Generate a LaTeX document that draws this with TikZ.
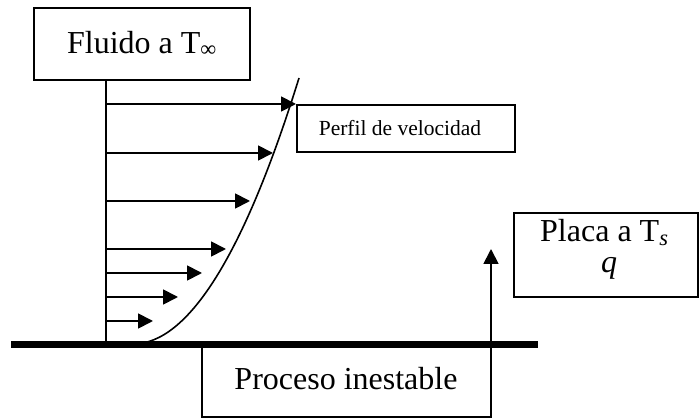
\documentclass[tikz,border=0pt]{standalone}
\usepackage{fontspec}
\setmainfont{Liberation Serif}
\usetikzlibrary{arrows.meta}
\begin{document}
\begin{tikzpicture}[x=1pt,y=-1pt,
  boxline/.style={draw=black,line width=1.8pt},
  bigtext/.style={font=\fontsize{32}{38}\selectfont,inner sep=0pt},
  smalltext/.style={font=\fontsize{21.5}{26}\selectfont,inner sep=0pt},
  vel/.style={line width=1.8pt,-{Triangle[length=15pt,width=15pt]}},
  plate/.style={line width=7pt},
  profile/.style={line width=1.6pt}]
\useasboundingbox (0,0) rectangle (699,419);
% boxes
\draw[boxline] (34,8) rectangle (250,80);
\node[bigtext] (fluido) at (142,44) {Fluido a T\textsubscript{∞}};
\coordinate (fb) at (106,80);
\draw[boxline] (297,105) rectangle (515,152);
\node[smalltext] (perfil) at (400,128.5) {Perfil de velocidad};
\draw[boxline] (514,213) rectangle (698,297);
\node[bigtext,anchor=base west] (placa) at (540,242) {Placa a T\textsubscript{\textit{s}}};
\node[bigtext,anchor=base] (q) at (609,273) {\textit{q}};
\draw[boxline,fill=white] (202,345) rectangle (491,417);
\node[bigtext] (proceso) at (346,379) {Proceso inestable};
% plate
\coordinate (pl) at (11,345);
\coordinate (pr) at (538,345);
\draw[plate] (pl) -- (pr);
% vertical axis
\coordinate (ax) at (106,345);
\draw[line width=1.8pt] (fb) -- (ax);
% velocity arrows
\foreach \y/\xe [count=\i] in {104/296,153/273,201/250,249/226,273/202,297/178,321/153}{
  \coordinate (s\i) at (106,\y);
  \coordinate (e\i) at (\xe,\y);
  \draw[vel] (s\i) -- (e\i);
}
% profile curve
\coordinate (c0) at (133,344);
\coordinate (c1) at (299,78);
\draw[profile] (c0) .. controls (188,344) and (244,255) .. (c1);
% heat arrow
\coordinate (hb) at (491,345);
\coordinate (ht) at (491,249);
\draw[vel] (hb) -- (ht);
\end{tikzpicture}
\end{document}
